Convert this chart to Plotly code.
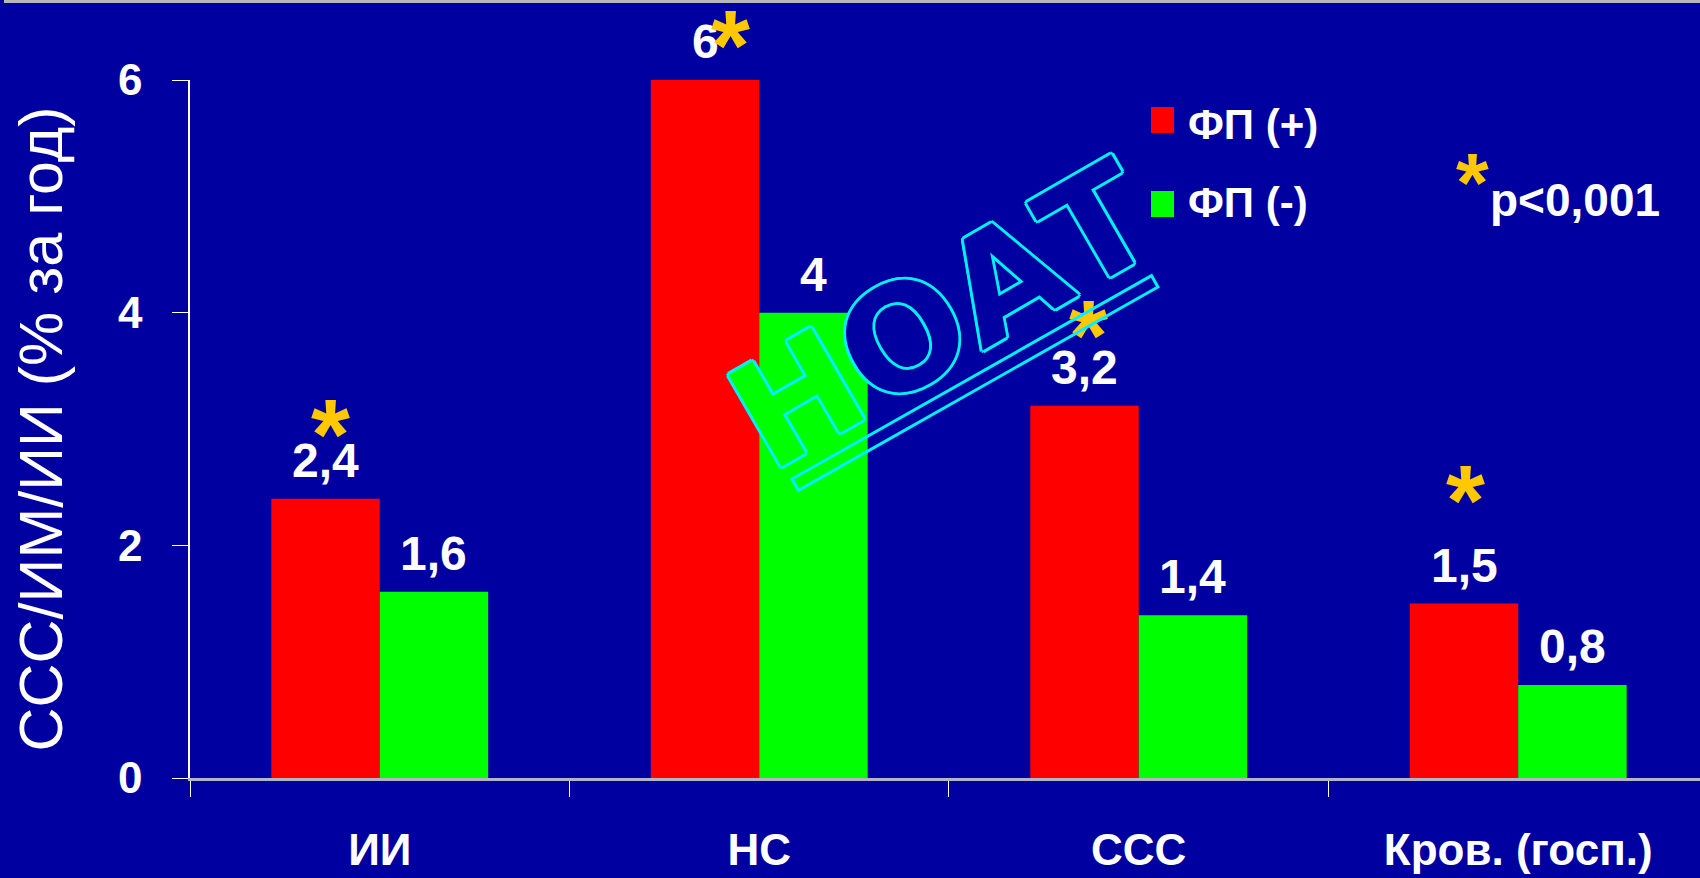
import plotly.graph_objects as go

# Event rates (% per year) by atrial fibrillation status
categories = ["ИИ", "НС", "ССС", "Кров. (госп.)"]
af_pos = [2.4, 6, 3.2, 1.5]   # ФП (+)
af_neg = [1.6, 4, 1.4, 0.8]   # ФП (-)
series_names = ["ФП (+)", "ФП (-)"]
y_tick_vals = [0, 2, 4, 6]
y_max = 6
y_title = "ССС/ИМ/ИИ (% за год)"
p_note = "p<0,001"
watermark = "НОАТ"

# significance stars sit above the ФП (+) bars (category index, value units)
star_x = [-0.13, 0.924, 1.867, 2.86]
star_y = [3.09, 6.43, 3.94, 2.52]

BG = "#0000A0"
RED = "#FF0000"
GREEN = "#00FF00"
GOLD = "#FFC800"
CYAN = "#00F0FF"
FONT = "Liberation Sans, Arial, sans-serif"

W, H = 1700, 878
ML, MR, MT, MB = 190, 0, 80, 100
PW, PH = W - ML - MR, H - MT - MB


def px_to_paper(px, py):
    return (px - ML) / PW, (H - MB - py) / PH


def fmt(v):
    return f"{v:g}".replace(".", ",")


fig = go.Figure()
fig.add_trace(go.Bar(x=categories, y=af_pos, name=series_names[0],
                     marker=dict(color=RED, line=dict(width=0)), showlegend=False))
fig.add_trace(go.Bar(x=categories, y=af_neg, name=series_names[1],
                     marker=dict(color=GREEN, line=dict(width=0)), showlegend=False))

annotations = []
half = (1 - 0.4286) / 4
for i, (a, b) in enumerate(zip(af_pos, af_neg)):
    for xv, v in ((i - half, a), (i + half, b)):
        annotations.append(dict(x=xv, y=v, xref="x", yref="y", text=f"<b>{fmt(v)}</b>",
                                showarrow=False, yanchor="bottom", yshift=10,
                                font=dict(family=FONT, size=48, color="white")))

for sx, sy in zip(star_x, star_y):
    annotations.append(dict(x=sx, y=sy / y_max, xref="x", yref="paper", text="<b>*</b>",
                            showarrow=False, xanchor="center", yanchor="middle", yshift=-15,
                            font=dict(family=FONT, size=100, color=GOLD)))

# legend drawn as swatches + labels
shapes = []
for name, color, cy, ty_px in ((series_names[0], RED, 120, 125), (series_names[1], GREEN, 204, 202)):
    x0, y0 = px_to_paper(1151, cy + 13)
    x1, y1 = px_to_paper(1174, cy - 13)
    shapes.append(dict(type="rect", xref="paper", yref="paper", x0=x0, x1=x1, y0=y0, y1=y1,
                       fillcolor=color, line=dict(width=0)))
    tx, ty = px_to_paper(1186, ty_px)
    annotations.append(dict(x=tx, y=ty, xref="paper", yref="paper", text=f"<b>{name}</b>",
                            showarrow=False, xanchor="left", yanchor="middle",
                            font=dict(family=FONT, size=42, color="white")))

sx, sy = px_to_paper(1472, 171)
annotations.append(dict(x=sx, y=sy, xref="paper", yref="paper", text="<b>*</b>",
                        showarrow=False, xanchor="center", yanchor="middle", yshift=-12,
                        font=dict(family=FONT, size=84, color=GOLD)))
px_, py_ = px_to_paper(1488, 200)
annotations.append(dict(x=px_, y=py_, xref="paper", yref="paper", text=f"<b>{p_note}</b>",
                        showarrow=False, xanchor="left", yanchor="middle",
                        font=dict(family=FONT, size=46, color="white")))

# outlined watermark with underline bar
outline = ", ".join(f"{CYAN} {dx}px {dy}px 0px" for dx, dy in
                    ((3, 0), (-3, 0), (0, 3), (0, -3), (2, 2), (-2, 2), (2, -2), (-2, -2)))
wx, wy = px_to_paper(942, 315)
annotations.append(dict(x=wx, y=wy, xref="paper", yref="paper",
                        text=f"<b><span style='color:{GREEN}'>{watermark[0]}</span>{watermark[1:]}</b>",
                        showarrow=False, textangle=-30, xanchor="center", yanchor="middle",
                        font=dict(family="DejaVu Sans", size=145, color=BG, shadow=outline)))
rx, ry = px_to_paper(975, 383)
annotations.append(dict(x=rx, y=ry, xref="paper", yref="paper", text=" ",
                        showarrow=False, textangle=-29.5, width=410, height=10,
                        borderpad=0, bordercolor=CYAN, borderwidth=3,
                        font=dict(size=2, color=CYAN)))

# thin grey rule along the top edge
gx0, gy0 = px_to_paper(4, 3)
gx1, gy1 = px_to_paper(W, 0)
shapes.append(dict(type="rect", xref="paper", yref="paper", x0=gx0, x1=gx1, y0=gy0, y1=gy1,
                   fillcolor="#B8B8B8", line=dict(width=0)))

fig.update_layout(
    width=W, height=H,
    margin=dict(l=ML, r=MR, t=MT, b=MB, pad=0),
    paper_bgcolor=BG, plot_bgcolor=BG,
    barmode="group", bargap=0.4286, bargroupgap=0,
    showlegend=False,
    annotations=annotations, shapes=shapes,
    xaxis=dict(type="category", categoryorder="array", categoryarray=categories,
               range=[-0.5, 3.479], showgrid=False, zeroline=False,
               showline=True, linecolor="#B4B4C8", linewidth=3,
               ticks="outside", tickson="boundaries", ticklen=16, tickwidth=1,
               tickcolor="white", ticklabelstandoff=31,
               tickfont=dict(family=FONT, size=44, color="white", weight="bold")),
    yaxis=dict(range=[0, y_max], tickvals=y_tick_vals, showgrid=False, zeroline=False,
               showline=True, linecolor="white", linewidth=1.5,
               ticks="outside", ticklen=16, tickwidth=1, tickcolor="white",
               ticklabelstandoff=21,
               tickfont=dict(family=FONT, size=44, color="white", weight="bold"),
               title=dict(text=y_title, standoff=36,
                          font=dict(family=FONT, size=61, color="white"))),
)

fig.write_html("out.html")
